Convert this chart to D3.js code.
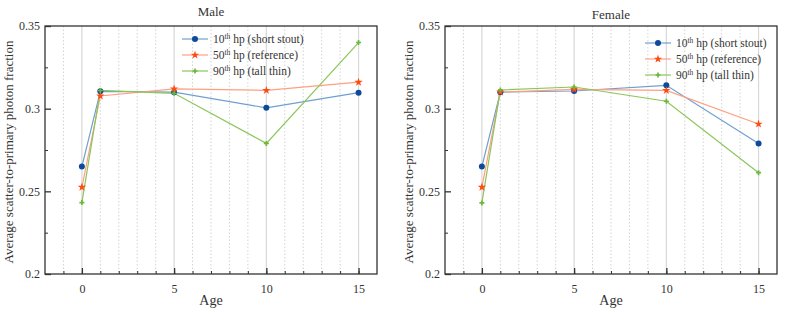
<!DOCTYPE html>
<html>
<head>
<meta charset="utf-8">
<script src="https://cdn.jsdelivr.net/npm/d3@7"></script>
<style>
  body { margin: 0; background: #fff; }
</style>
</head>
<body>
<div id="vis"></div>
<script>
// Data
const ages = [0, 1, 5, 10, 15];
const seriesNames = ["10th", "50th", "90th"];
const seriesLabels = [" hp (short stout)", " hp (reference)", " hp (tall thin)"];
const male10 = [0.265, 0.3105, 0.310, 0.3005, 0.3097];
const male50 = [0.2525, 0.3077, 0.312, 0.3111, 0.316];
const male90 = [0.2432, 0.311, 0.3093, 0.279, 0.340];
const female10 = [0.265, 0.310, 0.3107, 0.3141, 0.279];
const female50 = [0.2525, 0.310, 0.3117, 0.3111, 0.2907];
const female90 = [0.243, 0.3113, 0.3131, 0.3045, 0.2613];
const yTicks = [0.2, 0.25, 0.3, 0.35];
const yTickLabels = ["0.2", "0.25", "0.3", "0.35"];
const xTicks = [0, 5, 10, 15];

const width = 800, height = 319;
const serif = "'Liberation Serif', 'Times New Roman', Times, serif";
const textColor = "#333";
const lineColors = ["#6f9fcf", "#ff9f80", "#8cc65a"];
const markColors = ["#0d4a9a", "#ff4a12", "#6cb83a"];

const svg = d3.select("#vis").append("svg")
  .attr("width", width)
  .attr("height", height)
  .attr("font-family", serif);

function drawPanel(left, title, titleY, values, legendPos) {
  const plot = { left: left, right: left + 332, top: 26, bottom: 274 };

  const x = d3.scaleLinear().domain([-2, 16]).range([plot.left, plot.right]);
  const y = d3.scaleLinear().domain([0.2, 0.35]).range([plot.bottom, plot.top]);

  const g = svg.append("g");

  // vertical grid: dotted at each integer, solid at majors
  const gridVals = d3.range(-1, 16);
  g.selectAll("line.grid")
    .data(gridVals)
    .enter().append("line")
    .attr("x1", d => x(d)).attr("x2", d => x(d))
    .attr("y1", plot.top).attr("y2", plot.bottom)
    .attr("stroke", d => d % 5 === 0 ? "#d8d8d8" : "#c8c8c8")
    .attr("stroke-width", d => d % 5 === 0 ? 1.2 : 0.8)
    .attr("stroke-dasharray", d => d % 5 === 0 ? null : "1.5,2");

  // frame
  g.append("rect")
    .attr("x", plot.left).attr("y", plot.top)
    .attr("width", plot.right - plot.left).attr("height", plot.bottom - plot.top)
    .attr("fill", "none").attr("stroke", "#333").attr("stroke-width", 1.3);

  // bottom axis ticks (inward)
  g.append("g")
    .attr("transform", `translate(0,${plot.bottom})`)
    .call(d3.axisBottom(x).tickValues(d3.range(-1, 16)).tickSize(-3).tickFormat(""))
    .call(a => a.select(".domain").remove())
    .call(a => a.selectAll("line").attr("stroke", "#333"));
  g.append("g")
    .attr("transform", `translate(0,${plot.bottom})`)
    .call(d3.axisBottom(x).tickValues(xTicks).tickSize(-6).tickPadding(10).tickFormat(d3.format("d")))
    .attr("font-family", serif)
    .call(a => a.select(".domain").remove())
    .call(a => a.selectAll("line").attr("stroke", "#333").attr("stroke-width", 1.3))
    .call(a => a.selectAll("text").attr("font-size", "12px").attr("fill", textColor));

  // left axis ticks (inward)
  g.append("g")
    .attr("transform", `translate(${plot.left},0)`)
    .call(d3.axisLeft(y).tickValues([0.225, 0.275, 0.325]).tickSize(-3).tickFormat(""))
    .call(a => a.select(".domain").remove())
    .call(a => a.selectAll("line").attr("stroke", "#333"));
  g.append("g")
    .attr("transform", `translate(${plot.left},0)`)
    .call(d3.axisLeft(y).tickValues(yTicks).tickSize(-6).tickPadding(5)
      .tickFormat((d, i) => yTickLabels[i]))
    .attr("font-family", serif)
    .call(a => a.select(".domain").remove())
    .call(a => a.selectAll("line").attr("stroke", "#333").attr("stroke-width", 1.3))
    .call(a => a.selectAll("text").attr("font-size", "12px").attr("fill", textColor));

  // titles
  g.append("text")
    .attr("x", (plot.left + plot.right) / 2).attr("y", titleY)
    .attr("text-anchor", "middle").attr("font-size", "13px").attr("fill", textColor)
    .text(title);
  g.append("text")
    .attr("x", (plot.left + plot.right) / 2).attr("y", 305)
    .attr("text-anchor", "middle").attr("font-size", "14px").attr("fill", textColor)
    .text("Age");
  g.append("text")
    .attr("transform", `translate(${plot.left - 32},${(plot.top + plot.bottom) / 2 + 2}) rotate(-90)`)
    .attr("text-anchor", "middle").attr("font-size", "13px").attr("fill", textColor)
    .text("Average scatter-to-primary photon fraction");

  const line = d3.line().x((d, i) => x(ages[i])).y(d => y(d));

  values.forEach((vals, s) => {
    g.append("path")
      .datum(vals)
      .attr("d", line)
      .attr("fill", "none")
      .attr("stroke", lineColors[s])
      .attr("stroke-width", 1.2);
  });

  // markers
  values.forEach((vals, s) => {
    drawMarkers(g, s, vals.map((v, i) => [x(ages[i]), y(v)]));
  });

  // legend
  seriesNames.forEach((name, s) => {
    const ly = legendPos[1] + s * 16;
    const lg = g.append("g").attr("transform", `translate(${legendPos[0]},${ly})`);
    lg.append("line")
      .attr("x1", 0).attr("x2", 26).attr("y1", 0).attr("y2", 0)
      .attr("stroke", lineColors[s]).attr("stroke-width", 1.2);
    drawMarkers(lg, s, [[13, 0]]);
    const t = lg.append("text").attr("x", 31).attr("y", 4)
      .attr("font-size", "11.5px").attr("fill", textColor);
    t.append("tspan").text(name.slice(0, 2));
    t.append("tspan").attr("dy", -4).attr("font-size", "7.5px").text("th");
    t.append("tspan").attr("dy", 4).text(seriesLabels[s]);
  });
}

function drawMarkers(g, s, pts) {
  if (s === 0) {
    g.selectAll(null).data(pts).enter().append("circle")
      .attr("cx", d => d[0]).attr("cy", d => d[1]).attr("r", 3)
      .attr("fill", markColors[0]);
  } else if (s === 1) {
    g.selectAll(null).data(pts).enter().append("path")
      .attr("transform", d => `translate(${d[0]},${d[1]})`)
      .attr("d", d3.symbol(d3.symbolStar, 22)())
      .attr("fill", markColors[1]);
  } else {
    g.selectAll(null).data(pts).enter().append("path")
      .attr("transform", d => `translate(${d[0]},${d[1]})`)
      .attr("d", d3.symbol(d3.symbolCross, 14)())
      .attr("fill", markColors[2]);
  }
}

drawPanel(45, "Male", 16, [male10, male50, male90], [182, 39]);
drawPanel(445, "Female", 19, [female10, female50, female90], [645, 43]);
</script>
</body>
</html>
